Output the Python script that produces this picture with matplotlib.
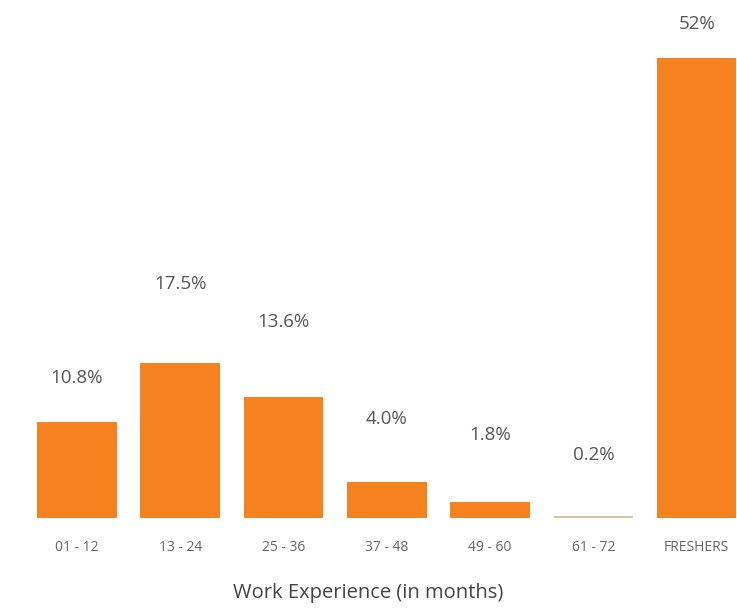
import matplotlib
matplotlib.use("Agg")
import matplotlib.pyplot as plt

categories = ["01 - 12", "13 - 24", "25 - 36", "37 - 48", "49 - 60", "61 - 72", "FRESHERS"]
shares = [10.8, 17.5, 13.6, 4.0, 1.8, 0.2, 52.0]
value_labels = ["10.8%", "17.5%", "13.6%", "4.0%", "1.8%", "0.2%", "52%"]

bar_colors = ["#F5821F"] * 5 + ["#D9C3A5"] + ["#F5821F"]
label_gap_pts = [32, 57, 54, 46, 48, 44, 24]

plt.rcParams["font.family"] = ["Open Sans", "DejaVu Sans"]

fig = plt.figure(figsize=(7.37, 6.15), dpi=100)
ax = fig.add_axes([0.0, 0.158, 1.0, 0.842])

x = list(range(len(categories)))
ax.bar(x, shares, width=0.77, color=bar_colors, edgecolor="none")

for xi, v, txt, gap in zip(x, shares, value_labels, label_gap_pts):
    ax.annotate(txt, (xi, v), xytext=(0, gap), textcoords="offset points",
                ha="center", va="center", fontsize=13.5, color="#555555")

ax.set_xlim(-0.745, 6.39)
ax.set_ylim(0, 58.5)
ax.set_xticks(x)
ax.set_xticklabels(categories, fontsize=10, color="#666666", fontstretch="semi-condensed")
ax.tick_params(axis="x", length=0, pad=16)
ax.set_yticks([])
for s in ax.spines.values():
    s.set_visible(False)

ax.set_xlabel("Work Experience (in months)", fontsize=14.5, color="#444444", labelpad=20)

fig.savefig("out.png", dpi=100)
